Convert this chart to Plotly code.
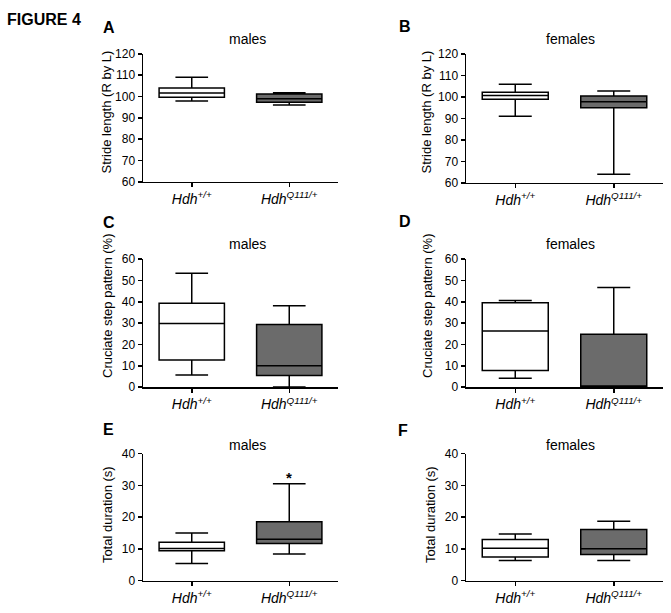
import plotly.graph_objects as go

W, H = 671, 613

categories = ["wt", "q111"]
tick_labels = ["<i>Hdh</i><sup><i>+/+</i></sup>", "<i>Hdh</i><sup><i>Q111/+</i></sup>"]
box_fills = ["white", "#6b6b6b"]

# Panel A: stride length, males
A_low = [97.9, 96.0]
A_q1 = [99.7, 97.3]
A_med = [101.7, 99.0]
A_q3 = [104.0, 101.2]
A_high = [109.0, 101.8]

# Panel B: stride length, females
B_low = [91.0, 64.0]
B_q1 = [98.9, 95.0]
B_med = [100.7, 97.7]
B_q3 = [102.2, 100.4]
B_high = [105.9, 102.8]

# Panel C: cruciate step pattern, males
C_low = [5.7, 0.0]
C_q1 = [12.7, 5.4]
C_med = [29.8, 10.0]
C_q3 = [39.3, 29.4]
C_high = [53.4, 38.1]

# Panel D: cruciate step pattern, females
D_low = [4.1, 0.0]
D_q1 = [7.8, 0.0]
D_med = [26.3, 0.0]
D_q3 = [39.6, 24.8]
D_high = [40.6, 46.7]

# Panel E: total duration, males
E_low = [5.4, 8.4]
E_q1 = [9.4, 11.7]
E_med = [10.1, 13.0]
E_q3 = [12.1, 18.5]
E_high = [15.0, 30.5]

# Panel F: total duration, females
F_low = [6.3, 6.3]
F_q1 = [7.4, 8.2]
F_med = [10.2, 10.05]
F_q3 = [12.9, 16.1]
F_high = [14.7, 18.7]

y_titles = ["Stride length (R by L)", "Stride length (R by L)",
            "Cruciate step pattern (%)", "Cruciate step pattern (%)",
            "Total duration (s)", "Total duration (s)"]
y_ranges = [[60, 120], [60, 120], [0, 60], [0, 60], [0, 40], [0, 40]]
y_dticks = [10, 10, 10, 10, 10, 10]
sex_titles = ["males", "females", "males", "females", "males", "females"]
panel_letters = ["A", "B", "C", "D", "E", "F"]

panels = [
    (A_low, A_q1, A_med, A_q3, A_high),
    (B_low, B_q1, B_med, B_q3, B_high),
    (C_low, C_q1, C_med, C_q3, C_high),
    (D_low, D_q1, D_med, D_q3, D_high),
    (E_low, E_q1, E_med, E_q3, E_high),
    (F_low, F_q1, F_med, F_q3, F_high),
]

# plot-area pixel boxes (x0, x1, ytop, ybottom)
boxes_px = [
    (143, 338, 48, 179),
    (466, 663, 48, 180),
    (143, 338, 258, 389),
    (466, 663, 258, 389),
    (143, 338, 457, 587),
    (466, 663, 457, 587),
]
title_px = [(247, 33), (570, 33), (247, 243), (570, 243), (247, 448), (570, 448)]
letter_px = [(109, 21), (405, 20), (109, 221), (405, 220), (109, 432), (403, 433)]
ytitle_px = [(107, 108), (427, 108), (107, 306), (427, 306), (107, 520), (430, 520)]

FONT = "Liberation Sans, Arial, sans-serif"

fig = go.Figure()
layout = dict(
    width=W, height=H,
    margin=dict(l=0, r=0, t=0, b=0),
    paper_bgcolor="white", plot_bgcolor="white",
    showlegend=False,
    boxmode="overlay",
    font=dict(family=FONT, color="black", size=12),
)
annotations = []

for i, (stats, bpx) in enumerate(zip(panels, boxes_px)):
    low, q1, med, q3, high = stats
    n = i + 1
    xa = "x" if n == 1 else f"x{n}"
    ya = "y" if n == 1 else f"y{n}"
    for j, cat in enumerate(categories):
        fig.add_trace(go.Box(
            x=[cat], lowerfence=[low[j]], q1=[q1[j]], median=[med[j]],
            q3=[q3[j]], upperfence=[high[j]],
            fillcolor=box_fills[j],
            line=dict(color="black", width=1.5),
            whiskerwidth=0.5, width=0.67,
            boxpoints=False, hoverinfo="skip",
            xaxis=xa, yaxis=ya,
        ))
    x0, x1, yt, yb = bpx
    xkey = "xaxis" if n == 1 else f"xaxis{n}"
    ykey = "yaxis" if n == 1 else f"yaxis{n}"
    layout[xkey] = dict(
        domain=[x0 / W, x1 / W], anchor=ya,
        type="category", range=[-0.5, 1.5],
        categoryorder="array", categoryarray=categories,
        tickvals=categories, ticktext=tick_labels,
        showline=True, linecolor="black", linewidth=1.5,
        ticks="outside", ticklen=4, tickwidth=1.5, tickcolor="black",
        showgrid=False, zeroline=False,
        tickfont=dict(size=14, family=FONT, color="black"),
        fixedrange=True,
    )
    layout[ykey] = dict(
        domain=[1 - yb / H, 1 - yt / H], anchor=xa,
        range=y_ranges[i], dtick=y_dticks[i],
        showline=True, linecolor="black", linewidth=1.5,
        ticks="outside", ticklen=4, tickwidth=1.5, tickcolor="black",
        showgrid=False, zeroline=False,
        tickfont=dict(size=12, family=FONT, color="black"),
        fixedrange=True,
    )
    vx, vy = ytitle_px[i]
    annotations.append(dict(
        text=y_titles[i], x=vx / W, y=1 - vy / H, xref="paper", yref="paper",
        showarrow=False, xanchor="center", yanchor="middle", textangle=-90,
        font=dict(size=13, family=FONT, color="black"),
    ))
    tx, ty = title_px[i]
    annotations.append(dict(
        text=sex_titles[i], x=tx / W, y=1 - ty / H, xref="paper", yref="paper",
        showarrow=False, xanchor="center", yanchor="middle",
        font=dict(size=14, family=FONT, color="black"),
    ))
    lx, ly = letter_px[i]
    annotations.append(dict(
        text="<b>" + panel_letters[i] + "</b>", x=lx / W, y=1 - ly / H,
        xref="paper", yref="paper", showarrow=False,
        xanchor="center", yanchor="middle",
        font=dict(size=16, family=FONT, color="black"),
    ))

annotations.append(dict(
    text="<b>FIGURE 4</b>", x=5 / W, y=1 - 13 / H, xref="paper", yref="paper",
    showarrow=False, xanchor="left", yanchor="middle",
    font=dict(size=16, family=FONT, color="black"),
))
# significance marker in panel E
annotations.append(dict(
    text="<b>*</b>", x=categories[1], y=32.5, xref="x5", yref="y5",
    showarrow=False, xanchor="center", yanchor="middle",
    font=dict(size=15, family=FONT, color="black"),
))

layout["annotations"] = annotations
fig.update_layout(**layout)
fig.write_html(
    "out.html",
    config={"displayModeBar": False, "staticPlot": True},
    post_script="document.body.style.margin='0';document.body.style.overflow='hidden';",
)
